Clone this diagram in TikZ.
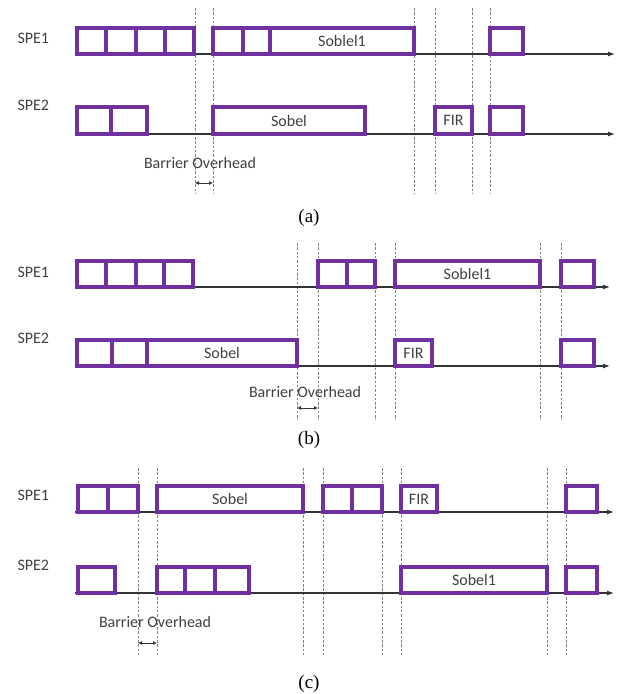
\documentclass[tikz,border=0pt]{standalone}
\usepackage{fontspec}
\setmainfont{Carlito}
\newfontfamily\capfont{Liberation Serif}
\usetikzlibrary{arrows.meta}
\definecolor{spepurple}{HTML}{7030A0}
\definecolor{axisgray}{HTML}{333333}
\definecolor{textgray}{HTML}{404040}
\tikzset{
  task/.style={draw=spepurple,line width=3.6pt,fill=white},
  timeline/.style={draw=axisgray,line width=1.2pt,-{Latex[length=7pt,width=5pt]}},
  sync/.style={draw=gray,line width=0.6pt,dash pattern=on 2.5pt off 1.8pt},
  overhead/.style={draw=axisgray,line width=1pt,{Latex[length=4pt,width=4pt]}-{Latex[length=4pt,width=4pt]}},
  lbl/.style={text=textgray,font=\fontsize{16}{18}\selectfont},
  subcap/.style={font=\capfont\fontsize{19}{21}\selectfont}
}

\begin{document}
\begin{tikzpicture}[x=1pt,y=-1pt]
  \useasboundingbox (0,0) rectangle (619,694);

  % ---- (a)
  \foreach \x in {195,213,414,435,472,490}
    \draw[sync] (\x,8) -- (\x,193);
  \coordinate (aS1) at (75,54);  \coordinate (aE1) at (615,54);
  \coordinate (aS2) at (75,134); \coordinate (aE2) at (615,134);
  \draw[timeline] (aS1) -- (aE1);
  \draw[timeline] (aS2) -- (aE2);
  \node[lbl,anchor=west] (aspe1) at (14,38) {SPE1};
  \node[lbl,anchor=west] (aspe2) at (14,105) {SPE2};
  \foreach \x/\y in {77/106,106/136,136/165,165/194,213/243,243/270}
    \draw[task] (\x,28) rectangle (\y,54);
  \draw[task] (270,28) rectangle (414,54) node[midway,lbl] (asob1) {Soblel1};
  \draw[task] (490,28) rectangle (523,54);
  \draw[task] (77,107) rectangle (111,134);
  \draw[task] (111,107) rectangle (147,134);
  \draw[task] (213,107) rectangle (365,134) node[midway,lbl] (asob) {Sobel};
  \draw[task] (435,107) rectangle (472,134) node[midway,lbl] (afir) {FIR};
  \draw[task] (490,107) rectangle (523,134);
  \node[lbl] (abar) at (200,163) {Barrier Overhead};
  \coordinate (aL) at (195,183); \coordinate (aR) at (213,183);
  \draw[overhead] (aL) -- (aR);
  \node[subcap] (acap) at (309,218) {(a)};

  % ---- (b)
  \foreach \x in {297,318,375,395,540,561}
    \draw[sync] (\x,243) -- (\x,420);
  \coordinate (bS1) at (75,287);  \coordinate (bE1) at (610,287);
  \coordinate (bS2) at (75,366); \coordinate (bE2) at (610,366);
  \draw[timeline] (bS1) -- (bE1);
  \draw[timeline] (bS2) -- (bE2);
  \node[lbl,anchor=west] (bspe1) at (14,272) {SPE1};
  \node[lbl,anchor=west] (bspe2) at (14,338) {SPE2};
  \foreach \x/\y in {77/106,106/136,136/164,164/193,318/347,347/375}
    \draw[task] (\x,261) rectangle (\y,287);
  \draw[task] (395,261) rectangle (540,287) node[midway,lbl] (bsob1) {Soblel1};
  \draw[task] (561,261) rectangle (594,287);
  \draw[task] (77,340) rectangle (112,366);
  \draw[task] (112,340) rectangle (147,366);
  \draw[task] (147,340) rectangle (297,366) node[midway,lbl] (bsob) {Sobel};
  \draw[task] (395,340) rectangle (432,366) node[midway,lbl] (bfir) {FIR};
  \draw[task] (561,340) rectangle (594,366);
  \node[lbl] (bbar) at (305,392) {Barrier Overhead};
  \coordinate (bL) at (297,408); \coordinate (bR) at (318,408);
  \draw[overhead] (bL) -- (bR);
  \node[subcap] (bcap) at (309,440) {(b)};

  % ---- (c)
  \foreach \x in {138,157,303,323,382,401,547,566}
    \draw[sync] (\x,468) -- (\x,655);
  \coordinate (cS1) at (75,512);  \coordinate (cE1) at (614,512);
  \coordinate (cS2) at (75,593); \coordinate (cE2) at (614,593);
  \draw[timeline] (cS1) -- (cE1);
  \draw[timeline] (cS2) -- (cE2);
  \node[lbl,anchor=west] (cspe1) at (14,495) {SPE1};
  \node[lbl,anchor=west] (cspe2) at (14,565) {SPE2};
  \foreach \x/\y in {78/108,108/138,323/352,352/382}
    \draw[task] (\x,486) rectangle (\y,512);
  \draw[task] (157,486) rectangle (303,512) node[midway,lbl] (csob) {Sobel};
  \draw[task] (401,486) rectangle (437,512) node[midway,lbl] (cfir) {FIR};
  \draw[task] (566,486) rectangle (597,512);
  \foreach \x/\y in {78/115,157/185,185/215,215/249}
    \draw[task] (\x,567) rectangle (\y,593);
  \draw[task] (401,567) rectangle (547,593) node[midway,lbl] (csob1) {Sobel1};
  \draw[task] (566,567) rectangle (597,593);
  \node[lbl] (cbar) at (155,622) {Barrier Overhead};
  \coordinate (cL) at (138,643); \coordinate (cR) at (157,643);
  \draw[overhead] (cL) -- (cR);
  \node[subcap] (ccap) at (309,684) {(c)};
\end{tikzpicture}
\end{document}
